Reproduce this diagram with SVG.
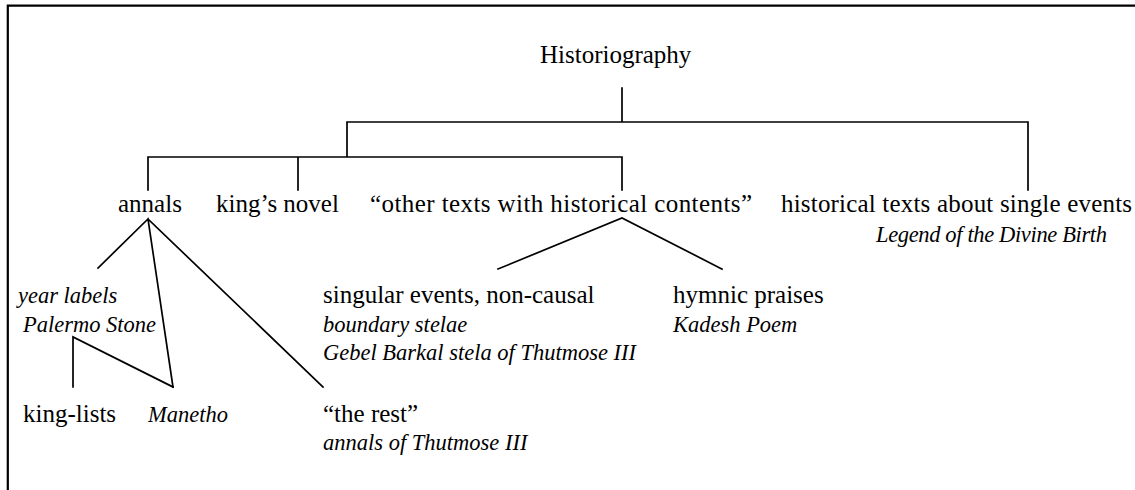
<svg xmlns="http://www.w3.org/2000/svg" width="1135" height="490" viewBox="0 0 1135 490">
<style>
text{font-family:"Liberation Serif","Times New Roman",serif;fill:#000;font-size:25px}
.it{font-style:italic;font-size:22.5px}
.ln{stroke:#000;stroke-width:1.7;fill:none;stroke-linecap:square}
.bd{stroke:#000;stroke-width:2.2;fill:none}
</style>
<rect width="1135" height="490" fill="#fff"/>
<path class="bd" d="M7.8,490 V5.7 H1135"/>
<g id="connectors">
<path class="ln" d="M622,88 V122 M347,122 H1028 M1028,122 V190 M347,122 V157 M148,157 H622 M148,157 V190 M298,157 V190 M622,157 V190"/>
<path class="ln" d="M98,268 L148,219 L173,387 M148,219 L323,387"/>
<path class="ln" d="M73,387 V337 L173,387"/>
<path class="ln" d="M498,269 L622,218 L722,269"/>
</g>
<g id="historiography"><text x="540" y="63">Historiography</text></g>
<g id="annals"><text x="118" y="212">annals</text></g>
<g id="kings-novel"><text x="216" y="212">king’s novel</text></g>
<g id="other-texts"><text x="370" y="212" textLength="382" lengthAdjust="spacing">“other texts with historical contents”</text></g>
<g id="single-events"><text x="781" y="212" textLength="351" lengthAdjust="spacing">historical texts about single events</text><text class="it" x="876" y="242" textLength="231" lengthAdjust="spacing">Legend of the Divine Birth</text></g>
<g id="year-labels"><text class="it" x="18" y="303">year labels</text><text class="it" x="23" y="332">Palermo Stone</text></g>
<g id="king-lists"><text x="23" y="422">king-lists</text></g>
<g id="manetho"><text class="it" x="148" y="422">Manetho</text></g>
<g id="the-rest"><text x="323" y="422">“the rest”</text><text class="it" x="323" y="450">annals of Thutmose III</text></g>
<g id="singular-events"><text x="323" y="303">singular events, non-causal</text><text class="it" x="323" y="332">boundary stelae</text><text class="it" x="323" y="360">Gebel Barkal stela of Thutmose III</text></g>
<g id="hymnic-praises"><text x="673" y="303">hymnic praises</text><text class="it" x="673" y="332">Kadesh Poem</text></g>
</svg>
